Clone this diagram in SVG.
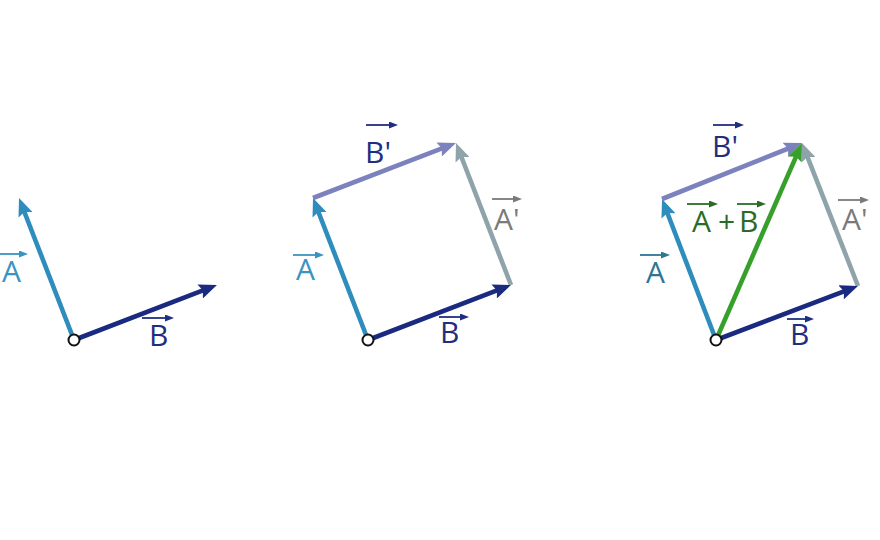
<svg xmlns="http://www.w3.org/2000/svg" width="880" height="540" viewBox="0 0 880 540">
<style>
.v{fill:none;stroke-width:4.6;stroke-linecap:butt}
.vA{stroke:#2e8dbc;marker-end:url(#hA)}
.vB{stroke:#1a2a80;marker-end:url(#hB)}
.vBp{stroke:#7c82bd;marker-end:url(#hBp)}
.vAp{stroke:#8fa4aa;marker-end:url(#hAp)}
.vS{stroke:#36a02b;marker-end:url(#hS)}
.o{fill:#fff;stroke:#111;stroke-width:2}
.t{font-family:"Open Sans","Liberation Sans",sans-serif;font-size:30px}
.oa{fill:none;stroke-width:1.8}
.cA{fill:#3a93c0}.sA{stroke:#3a93c0;marker-end:url(#sA)}
.cA3{fill:#2e7596}.sA3{stroke:#2e7596;marker-end:url(#sA3)}
.cB{fill:#1f2f7f}.sB{stroke:#1f2f7f;marker-end:url(#sB)}
.cAp{fill:#7a7a7a}.sAp{stroke:#7a7a7a;marker-end:url(#sAp)}
.cS{fill:#2b6b28}.sS{stroke:#2b6b28;marker-end:url(#sS)}
</style>
<defs>
<marker id="hA" markerUnits="userSpaceOnUse" markerWidth="18" markerHeight="15" viewBox="0 0 18 15" refX="10" refY="7.5" orient="auto"><path d="M0,0 L18,7.5 L0,15 L3,7.5 z" fill="#2e8dbc"/></marker>
<marker id="hB" markerUnits="userSpaceOnUse" markerWidth="18" markerHeight="15" viewBox="0 0 18 15" refX="10" refY="7.5" orient="auto"><path d="M0,0 L18,7.5 L0,15 L3,7.5 z" fill="#1a2a80"/></marker>
<marker id="hBp" markerUnits="userSpaceOnUse" markerWidth="18" markerHeight="15" viewBox="0 0 18 15" refX="10" refY="7.5" orient="auto"><path d="M0,0 L18,7.5 L0,15 L3,7.5 z" fill="#7c82bd"/></marker>
<marker id="hAp" markerUnits="userSpaceOnUse" markerWidth="18" markerHeight="15" viewBox="0 0 18 15" refX="10" refY="7.5" orient="auto"><path d="M0,0 L18,7.5 L0,15 L3,7.5 z" fill="#8fa4aa"/></marker>
<marker id="hS" markerUnits="userSpaceOnUse" markerWidth="18" markerHeight="15" viewBox="0 0 18 15" refX="10" refY="7.5" orient="auto"><path d="M0,0 L18,7.5 L0,15 L3,7.5 z" fill="#36a02b"/></marker>
<marker id="sA" markerUnits="userSpaceOnUse" markerWidth="9" markerHeight="7" viewBox="0 0 9 7" refX="6" refY="3.5" orient="auto"><path d="M0,0 L9,3.5 L0,7 z" fill="#3a93c0"/></marker>
<marker id="sA3" markerUnits="userSpaceOnUse" markerWidth="9" markerHeight="7" viewBox="0 0 9 7" refX="6" refY="3.5" orient="auto"><path d="M0,0 L9,3.5 L0,7 z" fill="#2e7596"/></marker>
<marker id="sB" markerUnits="userSpaceOnUse" markerWidth="9" markerHeight="7" viewBox="0 0 9 7" refX="6" refY="3.5" orient="auto"><path d="M0,0 L9,3.5 L0,7 z" fill="#1f2f7f"/></marker>
<marker id="sAp" markerUnits="userSpaceOnUse" markerWidth="9" markerHeight="7" viewBox="0 0 9 7" refX="6" refY="3.5" orient="auto"><path d="M0,0 L9,3.5 L0,7 z" fill="#7a7a7a"/></marker>
<marker id="sS" markerUnits="userSpaceOnUse" markerWidth="9" markerHeight="7" viewBox="0 0 9 7" refX="6" refY="3.5" orient="auto"><path d="M0,0 L9,3.5 L0,7 z" fill="#2b6b28"/></marker>
</defs>
<rect width="880" height="540" fill="#fff"/>
<g id="connectors">
<path class="v vA" d="M74,340 L21.9,205.5"/>
<path class="v vB" d="M74,340 L209.5,287.9"/>
<path class="v vA" d="M368,340 L315.9,205.5"/>
<path class="v vBp" d="M313,198 L448.5,145.9"/>
<path class="v vAp" d="M511,285 L458.9,150.5"/>
<path class="v vB" d="M368,340 L503.5,287.9"/>
<path class="v vA" d="M716,340 L664.9,206.5"/>
<path class="v vBp" d="M662,199 L794.6,146"/>
<path class="v vS" d="M716,340 L798.8,150.3"/>
<path class="v vAp" d="M858,286 L804.9,150.4"/>
<path class="v vB" d="M716,340 L850.5,288.8"/>
</g>
<g id="origin1"><circle class="o" cx="74" cy="340" r="5.5"/></g>
<g id="origin2"><circle class="o" cx="368" cy="340" r="5.5"/></g>
<g id="origin3"><circle class="o" cx="716" cy="340" r="5.5"/></g>
<g id="label-A-1"><text class="t cA" x="2" y="282">A</text><path class="oa sA" d="M0,254 L25,254"/></g>
<g id="label-B-1"><text class="t cB" x="149" y="346">B</text><path class="oa sB" d="M142,318 L171,318"/></g>
<g id="label-A-2"><text class="t cA" x="296" y="280">A</text><path class="oa sA" d="M293,255 L321,255"/></g>
<g id="label-B-2"><text class="t cB" x="440" y="343">B</text><path class="oa sB" d="M439,317 L466,317"/></g>
<g id="label-Bp-2"><text class="t cB" x="365" y="163">B'</text><path class="oa sB" d="M366,125 L395,125"/></g>
<g id="label-Ap-2"><text class="t cAp" x="494" y="230">A'</text><path class="oa sAp" d="M492,199 L519,199"/></g>
<g id="label-A-3"><text class="t cA3" x="646" y="283">A</text><path class="oa sA3" d="M640,255 L667,255"/></g>
<g id="label-B-3"><text class="t cB" x="790" y="345">B</text><path class="oa sB" d="M787,319 L811,319"/></g>
<g id="label-Bp-3"><text class="t cB" x="712" y="157">B'</text><path class="oa sB" d="M713,125 L741,125"/></g>
<g id="label-Ap-3"><text class="t cAp" x="842" y="230">A'</text><path class="oa sAp" d="M838,200 L866,200"/></g>
<g id="label-sum"><text class="t cS" y="232"><tspan x="692">A</tspan><tspan x="718">+</tspan><tspan x="739">B</tspan></text><path class="oa sS" d="M687,204 L715,204"/><path class="oa sS" d="M737,204 L763,204"/></g>
</svg>
